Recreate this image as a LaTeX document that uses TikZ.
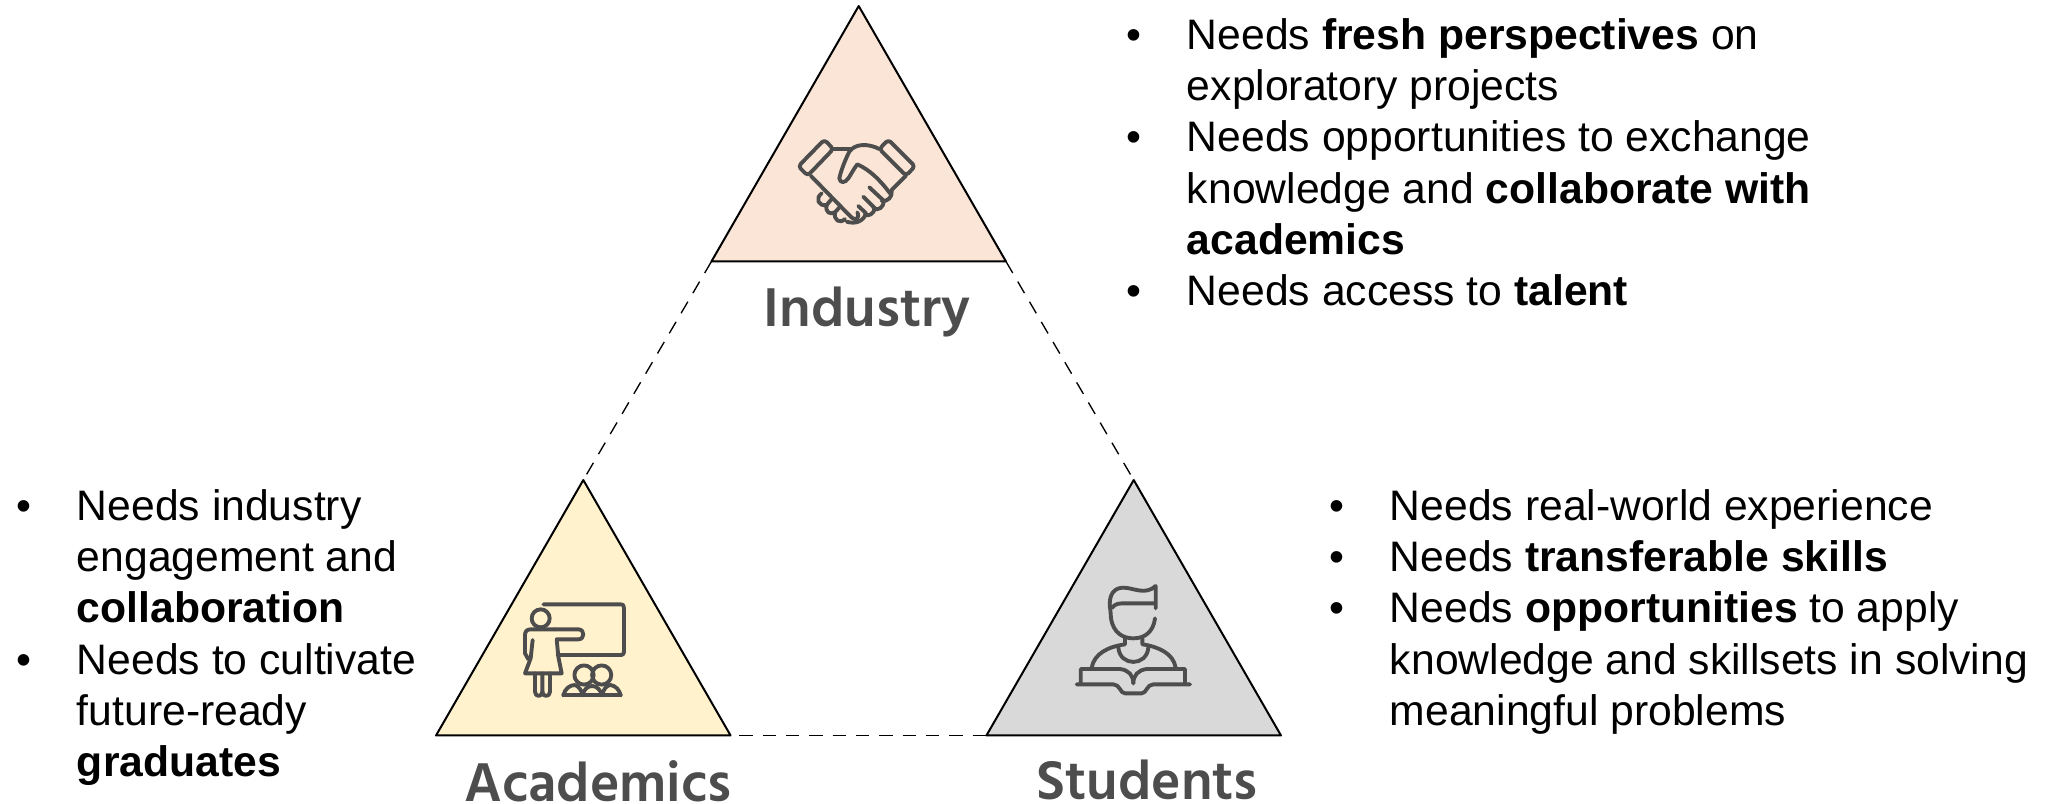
\documentclass[tikz,border=0pt]{standalone}
\usepackage{fontspec}
\setmainfont{Liberation Sans}
\newfontfamily\labelfont{Hind Madurai}
\usetikzlibrary{shapes.geometric}
\definecolor{iconcol}{HTML}{4D4D4D}
\definecolor{industrycol}{HTML}{FBE5D6}
\definecolor{academicscol}{HTML}{FFF2CC}
\definecolor{studentscol}{HTML}{D9D9D9}
\tikzset{
  corner/.style={draw=black,line width=1.5pt,isosceles triangle,isosceles triangle stretches,
    shape border rotate=90,minimum width=220.9pt,minimum height=191.6pt,inner sep=0pt,outer sep=0pt,
    anchor=apex,line join=round},
  tie/.style={line width=1pt,dash pattern=on 10pt off 7.5pt},
  groupname/.style={text=iconcol,font=\labelfont\fontsize{42}{48}\selectfont\bfseries,anchor=base,inner sep=0pt},
  needs/.style={anchor=north west,inner sep=0pt,font=\fontsize{32}{38.5}\selectfont},
  icon/.style={draw=iconcol,line width=2.9pt,line cap=round,line join=round},
}
\newenvironment{needlist}{\begin{tabular}{@{}p{45.5pt}@{}l@{}}}{\end{tabular}}
\begin{document}
\begin{tikzpicture}[x=0.75pt,y=-0.75pt]
  \useasboundingbox (0,0) rectangle (2047,803);
  %% triangles
  \node (Industry) at (858.7,6) [corner,fill=industrycol] {};
  \node (Academics) at (583.3,480) [corner,fill=academicscol] {};
  \node (Students) at (1133.7,480) [corner,fill=studentscol] {};
  %% dashed links
  \draw [tie] (Industry.left corner) -- (Academics.apex);
  \draw [tie] (Industry.right corner) -- (Students.apex);
  \draw [tie,yshift=-0.6pt] (Academics.left corner) -- (Students.right corner);
  %% names
  \node (IndustryName) at (867,326) [groupname] {Industry};
  \node (AcademicsName) at (598,801) [groupname] {Academics};
  \node (StudentsName) at (1147,799) [groupname] {Students};
  %% lists
  \node (IndustryNeeds) at (1126,13) [needs] {\begin{needlist}
    • & Needs \textbf{fresh perspectives} on\\
      & exploratory projects\\
    • & Needs opportunities to exchange\\
      & knowledge and \textbf{collaborate with}\\
      & \textbf{academics}\\
    • & Needs access to \textbf{talent}
  \end{needlist}};
  \node (AcademicsNeeds) at (16,484) [needs] {\begin{needlist}
    • & Needs industry\\
      & engagement and\\
      & \textbf{collaboration}\\
    • & Needs to cultivate\\
      & future-ready\\
      & \textbf{graduates}
  \end{needlist}};
  \node (StudentsNeeds) at (1329,484) [needs] {\begin{needlist}
    • & Needs real-world experience\\
    • & Needs \textbf{transferable skills}\\
    • & Needs \textbf{opportunities} to apply\\
      & knowledge and skillsets in solving\\
      & meaningful problems
  \end{needlist}};
  %% handshake
  \begin{scope}[shift={(780,125)},x=0.25pt,y=-0.25pt,icon,rounded corners=2.5pt]
    \draw (133,44) -- (160,72) -- (83,152) -- (55,124) -- cycle;
    \draw (325,44) -- (298,72) -- (378,152) -- (405,124) -- cycle;
  \end{scope}
  \begin{scope}[shift={(780,125)},x=0.25pt,y=-0.25pt,icon]
    \draw (160,72) -- (215,72);
    \draw (92,152) -- (215,278) .. controls (228,288) and (240,280) .. (232,262);
    \draw (298,72) .. controls (265,55) and (225,55) .. (208,80) .. controls (195,105) and (182,140) .. (178,160)
      .. controls (180,175) and (195,175) .. (205,160) .. controls (215,145) and (222,130) .. (232,118)
      .. controls (270,135) and (300,165) .. (330,205);
    \draw (378,152) -- (335,195) .. controls (338,215) and (325,230) .. (305,228);
    \draw (268,187) -- (312,228) .. controls (310,248) and (295,258) .. (280,250);
    \draw (250,215) -- (285,250) .. controls (280,268) and (265,275) .. (255,268);
    \draw (235,243) -- (258,265) .. controls (250,290) and (225,298) .. (200,290);
    \draw (125,205) .. controls (105,220) and (115,245) .. (140,240) .. controls (135,262) and (150,270) .. (165,262)
      .. controls (160,285) and (180,298) .. (195,282);
    \draw (140,240) -- (155,222);
    \draw (165,262) -- (180,245);
    %% teacher
  \end{scope}
  \begin{scope}[shift={(510,590)},x=0.25pt,y=-0.25pt,icon]
    \draw (92,85) circle [radius=6.75pt];
    \draw (100,43) -- (330,43) .. controls (340,43) and (342,46) .. (342,55) -- (342,180)
      .. controls (342,192) and (340,195) .. (330,195) -- (143,195);
    \draw (135,118) -- (205,118) .. controls (225,118) and (225,148) .. (205,148) -- (140,148)
      -- (145,200) -- (155,250) -- (45,250) -- (62,205) -- (68,150);
    \draw (135,118) -- (62,118) .. controls (50,118) and (45,125) .. (45,135) -- (45,190) -- (55,208);
    \draw (75,250) -- (75,305) .. controls (75,322) and (97,322) .. (97,305) -- (97,250);
    \draw (97,305) .. controls (97,322) and (120,322) .. (120,305) -- (120,250);
    \draw (222,255) circle [radius=7.2pt];
    \draw (275,255) circle [radius=7.2pt];
    \draw (160,316) -- (332,316);
    \draw (160,316) .. controls (165,295) and (180,285) .. (195,285);
    \draw (195,285) .. controls (205,288) and (215,300) .. (218,316);
    \draw (218,316) .. controls (222,295) and (235,288) .. (247,288) .. controls (260,288) and (272,300) .. (276,316);
    \draw (276,316) .. controls (280,298) and (290,285) .. (302,285) .. controls (318,288) and (328,300) .. (332,316);
    %% student
  \end{scope}
  \begin{scope}[shift={(1065,575)},x=0.25pt,y=-0.25pt,icon]
    \draw (135,100) .. controls (130,55) and (150,38) .. (175,38) .. controls (205,38) and (240,62) .. (272,33) -- (272,100);
    \draw (142,98) .. controls (150,85) and (165,85) .. (180,85) -- (268,85);
    \draw (135,90) -- (138,130) .. controls (145,175) and (175,190) .. (205,190) .. controls (240,190) and (265,170) .. (270,130);
    \draw (180,190) -- (180,208) .. controls (130,215) and (88,235) .. (80,278);
    \draw (232,190) -- (232,208) .. controls (280,215) and (325,235) .. (332,278);
    \draw (160,218) .. controls (165,275) and (245,275) .. (250,218);
    \draw (47,326) -- (47,282) -- (165,282) .. controls (190,285) and (205,300) .. (205,325);
    \draw (205,325) .. controls (205,300) and (220,285) .. (245,282) -- (360,282) -- (360,326);
    \draw (35,328) -- (145,328) .. controls (165,328) and (165,355) .. (180,355) -- (230,355)
      .. controls (245,355) and (245,328) .. (265,328) -- (375,328);
  \end{scope}
\end{tikzpicture}
\end{document}
